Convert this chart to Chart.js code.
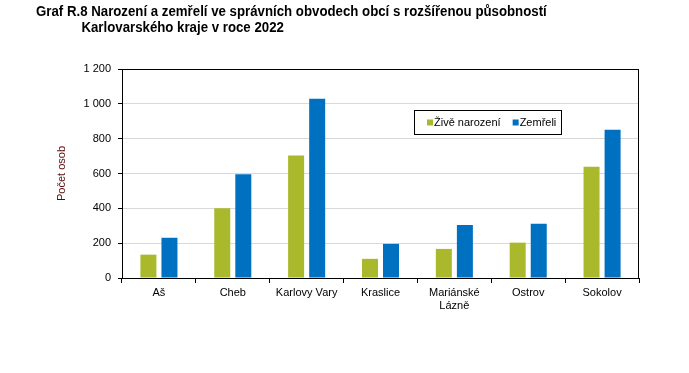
<!DOCTYPE html>
<html>
<head>
<meta charset="utf-8">
<script src="https://cdn.jsdelivr.net/npm/chart.js"></script>
<style>
  body { margin: 0; background: #fff; }
  #wrap { position: relative; width: 689px; height: 373px; }
  #title {
    position: absolute; left: 36px; top: 3px;
    font: bold 14px "Liberation Sans Narrow", "Arial Narrow", "Liberation Sans", Arial, sans-serif;
    color: #000; line-height: 16px; white-space: nowrap;
    transform: scaleX(0.946); transform-origin: left top;
  }
  #title .l2 { padding-left: 48px; }
  canvas { position: absolute; left: 0; top: 0; }
</style>
</head>
<body>
<div id="wrap">
  <canvas id="chart" width="689" height="373"></canvas>
  <div id="title">Graf R.8 Narození a zemřelí ve správních obvodech obcí s rozšířenou působností<br><span class="l2">Karlovarského kraje v roce 2022</span></div>
</div>
<script>
// Data
const categories = ['Aš', 'Cheb', 'Karlovy Vary', 'Kraslice', ['Mariánské', 'Lázně'], 'Ostrov', 'Sokolov'];
const births = [134, 400, 704, 110, 167, 203, 639];
const deaths = [231, 595, 1029, 196, 305, 311, 851];
const seriesNames = ['Živě narození', 'Zemřeli'];
const yTicks = [0, 200, 400, 600, 800, 1000, 1200];

const GREEN = '#a9b92b';
const BLUE = '#0070c0';
const FONT = '"Liberation Sans", Arial, sans-serif';

// border round the plot + legend box inside the plot
const framePlugin = {
  id: 'frame',
  afterDraw(chart) {
    const ctx = chart.ctx;
    const a = chart.chartArea;
    ctx.save();
    ctx.strokeStyle = '#000';
    ctx.lineWidth = 1;
    ctx.strokeRect(Math.round(a.left) + 0.5, Math.round(a.top) + 0.5,
      Math.round(a.right - a.left) - 1, Math.round(a.bottom - a.top));

    // legend
    const bx = 414, by = 110, bw = 147, bh = 24;
    ctx.fillStyle = '#fff';
    ctx.fillRect(bx, by, bw, bh);
    ctx.strokeRect(bx + 0.5, by + 0.5, bw, bh);
    ctx.font = '11px ' + FONT;
    ctx.textBaseline = 'middle';
    let x = bx + 13;
    const cy = by + bh / 2 + 0.5;
    chart.data.datasets.forEach(ds => {
      ctx.fillStyle = ds.backgroundColor;
      ctx.fillRect(x, cy - 3, 6, 6);
      ctx.fillStyle = '#000';
      ctx.fillText(ds.label, x + 7, cy);
      x += 7 + ctx.measureText(ds.label).width + 12;
    });
    ctx.restore();
  }
};

new Chart(document.getElementById('chart'), {
  type: 'bar',
  data: {
    labels: categories,
    datasets: [
      { label: seriesNames[0], data: births, backgroundColor: GREEN },
      { label: seriesNames[1], data: deaths, backgroundColor: BLUE }
    ]
  },
  options: {
    responsive: false,
    animation: false,
    devicePixelRatio: 1,
    layout: { padding: { top: 69, right: 50, left: 0, bottom: 0 } },
    datasets: { bar: { categoryPercentage: 0.57, barPercentage: 0.76 } },
    plugins: { legend: { display: false }, tooltip: { enabled: false }, title: { display: false } },
    scales: {
      x: {
        afterFit(s) { s.height = 95; },
        grid: { offset: true, drawOnChartArea: false, color: '#000', tickColor: '#000', tickLength: 5 },
        border: { color: '#000' },
        ticks: { color: '#000', font: { family: FONT, size: 11 }, padding: 3, maxRotation: 0, autoSkip: false }
      },
      y: {
        min: 0, max: 1200,
        afterFit(s) { s.width = 122; },
        afterBuildTicks(s) { s.ticks = yTicks.map(v => ({ value: v })); },
        grid: {
          color: ctx => (ctx.tick && (ctx.tick.value === 0 || ctx.tick.value === 1200)) ? 'rgba(0,0,0,0)' : '#d9d9d9',
          tickColor: '#000', tickLength: 4
        },
        border: { color: '#000' },
        ticks: {
          color: '#000', font: { family: FONT, size: 11 }, padding: 7,
          callback: v => String(v).replace(/\B(?=(\d{3})+(?!\d))/g, ' ')
        },
        title: {
          display: true, text: 'Počet osob', color: '#5a0a0a',
          font: { family: FONT, size: 11 }, padding: { top: 55, bottom: 0 }
        }
      }
    }
  },
  plugins: [framePlugin]
});
</script>
</body>
</html>
